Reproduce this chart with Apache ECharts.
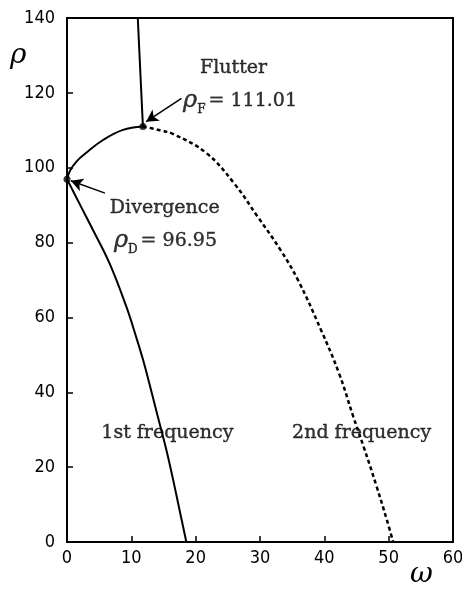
<!DOCTYPE html>
<html>
<head>
<meta charset="utf-8">
<script src="https://cdn.jsdelivr.net/npm/echarts@6/dist/echarts.min.js"></script>
<style>
  html, body { margin: 0; padding: 0; background: #fff; }
  #main { width: 462px; height: 596px; }
</style>
</head>
<body>
<div id="main"></div>
<script>
// tick labels
var xTicks = [0, 10, 20, 30, 40, 50, 60];
var yTicks = [0, 20, 40, 60, 80, 100, 120, 140];

// [omega, rho]
var firstFreq = [[0, 96.95], [2, 90.2], [4, 83.5], [6.6, 74.5], [9.2, 63], [10.8, 54.5], [11.8, 48.8],
  [12.85, 42], [14.1, 33.6], [15.45, 24.6], [16.5, 16.6], [17.5, 8.5], [18.55, 0]];
var mergedBranch = [[0, 96.95], [0.5, 99.3], [1.5, 101.7], [3, 104], [5.6, 107.4], [8.7, 110.1], [11.8, 111.01]];
var realBranch = [[11.8, 111.01], [11.0, 140]];
var secondFreq = [[11.8, 111.01], [14.5, 110], [16.5, 109], [21.6, 104], [25.9, 96], [29.6, 87],
  [33.2, 78], [35.9, 70], [39.5, 56.6], [42.3, 45], [44.5, 33.5], [46.1, 25.5], [48.1, 15],
  [49.7, 6], [50.7, 0]];
var criticalPoints = [[0, 96.95], [11.8, 111.01]];

// annotation anchors, in data units
var notes = [
  { name: 'Flutter', value: [25.9, 126.6] },
  { name: 'rhoF', value: [26.9, 117.8] },
  { name: 'Divergence', value: [15.2, 89.2] },
  { name: 'rhoD', value: [15.3, 80.5] },
  { name: '1st frequency', value: [15.6, 29.1] },
  { name: '2nd frequency', value: [45.8, 29.1] }
];
var arrows = [
  [[17.8, 118.5], [12.3, 112.3]],
  [[5.9, 93.2], [0.6, 96.5]]
];

var serif = '"DejaVu Serif", "Liberation Serif", serif';
var narrow = '"DejaVu Sans Condensed", "Liberation Sans Narrow", "Arial Narrow", sans-serif';

var chart = echarts.init(document.getElementById('main'), null, { renderer: 'canvas' });

var solid = { color: '#000', width: 2 };
// thin outline so the serif text reads as dark as the scan
var ink = { color: '#000', textBorderColor: '#000', textBorderWidth: 0.4 };

var option = {
  animation: false,
  backgroundColor: '#fff',
  grid: {
    left: 67, right: 9, top: 18, bottom: 54,
    show: true, borderColor: '#000', borderWidth: 2,
    outerBoundsMode: 'none'
  },
  xAxis: {
    type: 'value', min: 0, max: 60, interval: 10,
    axisLine: { lineStyle: { color: '#000', width: 2 } },
    axisTick: { inside: true, length: 6, lineStyle: { color: '#000', width: 1.5 } },
    axisLabel: {
      color: '#000', fontFamily: narrow, fontSize: 18, margin: 7,
      formatter: function (v) { return xTicks.indexOf(v) >= 0 ? String(v) : ''; }
    },
    splitLine: { show: false }
  },
  yAxis: {
    type: 'value', min: 0, max: 140, interval: 20,
    axisLine: { show: true, lineStyle: { color: '#000', width: 2 } },
    axisTick: { show: true, inside: true, length: 6, lineStyle: { color: '#000', width: 1.5 } },
    axisLabel: {
      color: '#000', fontFamily: narrow, fontSize: 18, margin: 12,
      formatter: function (v) { return yTicks.indexOf(v) >= 0 ? String(v) : ''; }
    },
    splitLine: { show: false }
  },
  graphic: [
    { type: 'text', left: 10, top: 42, style: { text: 'ρ', font: 'italic 28px ' + serif, fill: '#000' } },
    { type: 'text', left: 410, top: 561, style: { text: 'ω', font: 'italic 28px ' + serif, fill: '#000' } }
  ],
  series: [
    { type: 'line', data: firstFreq, smooth: 0.4, showSymbol: false, lineStyle: solid, z: 3 },
    { type: 'line', data: mergedBranch, smooth: 0.4, showSymbol: false, lineStyle: solid, z: 3 },
    { type: 'line', data: realBranch, showSymbol: false, lineStyle: solid, z: 3 },
    {
      type: 'line', data: secondFreq, smooth: 0.4, showSymbol: false,
      lineStyle: { color: '#000', width: 2.5, type: [4, 3] }, z: 3
    },
    {
      type: 'scatter', data: criticalPoints, symbol: 'circle', symbolSize: 7,
      itemStyle: { color: '#000' }, z: 5,
      markLine: {
        silent: true, symbol: ['none', 'arrow'], symbolSize: [10, 12],
        lineStyle: { color: '#000', width: 1.5, type: 'solid' },
        label: { show: false },
        data: arrows.map(function (a) {
          return [{ coord: a[0] }, { coord: a[1] }];
        })
      }
    },
    {
      type: 'scatter', data: notes, symbolSize: 0, silent: true,
      label: {
        show: true, position: 'inside', color: '#000',
        textBorderColor: '#000', textBorderWidth: 0.4,
        fontFamily: serif, fontSize: 19,
        formatter: function (p) {
          if (p.name === 'rhoF') return '{r|ρ}{s|F}{t|= 111.01}';
          if (p.name === 'rhoD') return '{r|ρ}{s|D}{t|= 96.95}';
          return p.name;
        },
        rich: {
          r: Object.assign({ fontFamily: serif, fontStyle: 'italic', fontSize: 24, lineHeight: 30 }, ink),
          s: Object.assign({ fontFamily: serif, fontSize: 12, lineHeight: 30, verticalAlign: 'bottom', padding: [0, 3, 0, 0] }, ink),
          t: Object.assign({ fontFamily: serif, fontSize: 19, lineHeight: 30 }, ink)
        }
      }
    }
  ]
};

chart.setOption(option);
</script>
</body>
</html>
